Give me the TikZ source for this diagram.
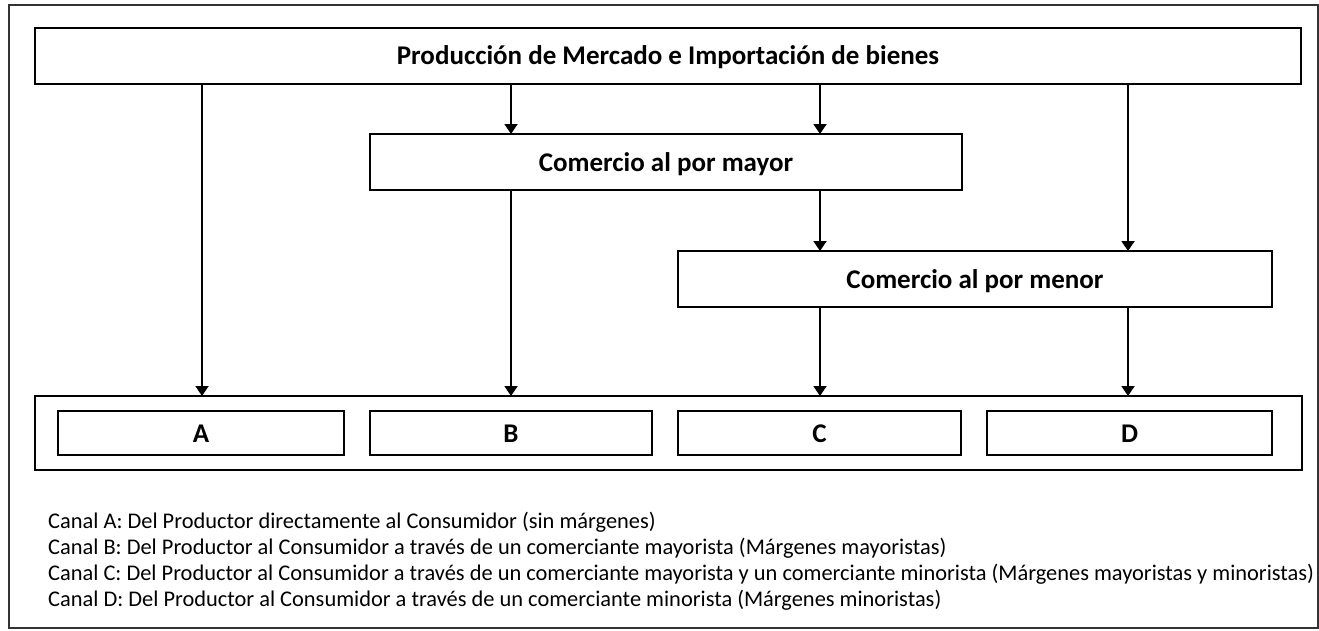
\documentclass[tikz,border=0pt]{standalone}
\usepackage{fontspec}
\setmainfont{Carlito}
\usetikzlibrary{arrows.meta}
\begin{document}
\begin{tikzpicture}[x=1pt,y=-1pt,
  box/.style={draw=black,line width=2.6pt},
  lbl/.style={anchor=base,inner sep=0pt,font=\fontsize{27}{30}\selectfont\bfseries},
  arr/.style={line width=1.9pt,-{Triangle[length=10pt,width=13pt]}},
  legend/.style={anchor=base west,inner sep=0pt,font=\fontsize{22.4}{26}\selectfont}]
\useasboundingbox (0,0) rectangle (1319,630);
\draw[line width=1.4pt,draw=black!80] (9,5) rectangle (1318,628);
% boxes
\draw[box] (35,28) rectangle (1301,84);
\node[lbl] (top) at (668,64) {Producción de Mercado e Importación de bienes};
\draw[box] (370,134) rectangle (962,190);
\node[lbl] (may) at (666,171) {Comercio al por mayor};
\draw[box] (678,251) rectangle (1272,307);
\node[lbl] (men) at (975,288) {Comercio al por menor};
\draw[box] (35,396) rectangle (1302,470);
\foreach \n/\a/\b in {A/58/344,B/370/652,C/678/961,D/987/1272}{
  \draw[box] (\a,411) rectangle (\b,455);
  \node[lbl] (\n) at ({(\a+\b)/2},442) {\n};
}
% coordinates
\coordinate (t1) at (202,84); \coordinate (bA) at (202,396);
\coordinate (t2) at (511,84); \coordinate (m2) at (511,134);
\coordinate (t3) at (820,84); \coordinate (m3) at (820,134);
\coordinate (t4) at (1128,84); \coordinate (r4) at (1128,251);
\coordinate (mb) at (511,190); \coordinate (bB) at (511,396);
\coordinate (mc) at (820,190); \coordinate (rc) at (820,251);
\coordinate (rc2) at (820,307); \coordinate (bC) at (820,396);
\coordinate (rd) at (1128,307); \coordinate (bD) at (1128,396);
\draw[arr] (t1) -- (bA);
\draw[arr] (t2) -- (m2);
\draw[arr] (t3) -- (m3);
\draw[arr] (t4) -- (r4);
\draw[arr] (mb) -- (bB);
\draw[arr] (mc) -- (rc);
\draw[arr] (rc2) -- (bC);
\draw[arr] (rd) -- (bD);
% legend
\node[legend] (l1) at (48,528) {Canal A: Del Productor directamente al Consumidor (sin márgenes)};
\node[legend] (l2) at (48,554) {Canal B: Del Productor al Consumidor a través de un comerciante mayorista (Márgenes mayoristas)};
\node[legend] (l3) at (48,580) {Canal C: Del Productor al Consumidor a través de un comerciante mayorista y un comerciante minorista (Márgenes mayoristas y minoristas)};
\node[legend] (l4) at (48,606) {Canal D: Del Productor al Consumidor a través de un comerciante minorista (Márgenes minoristas)};
\end{tikzpicture}
\end{document}
